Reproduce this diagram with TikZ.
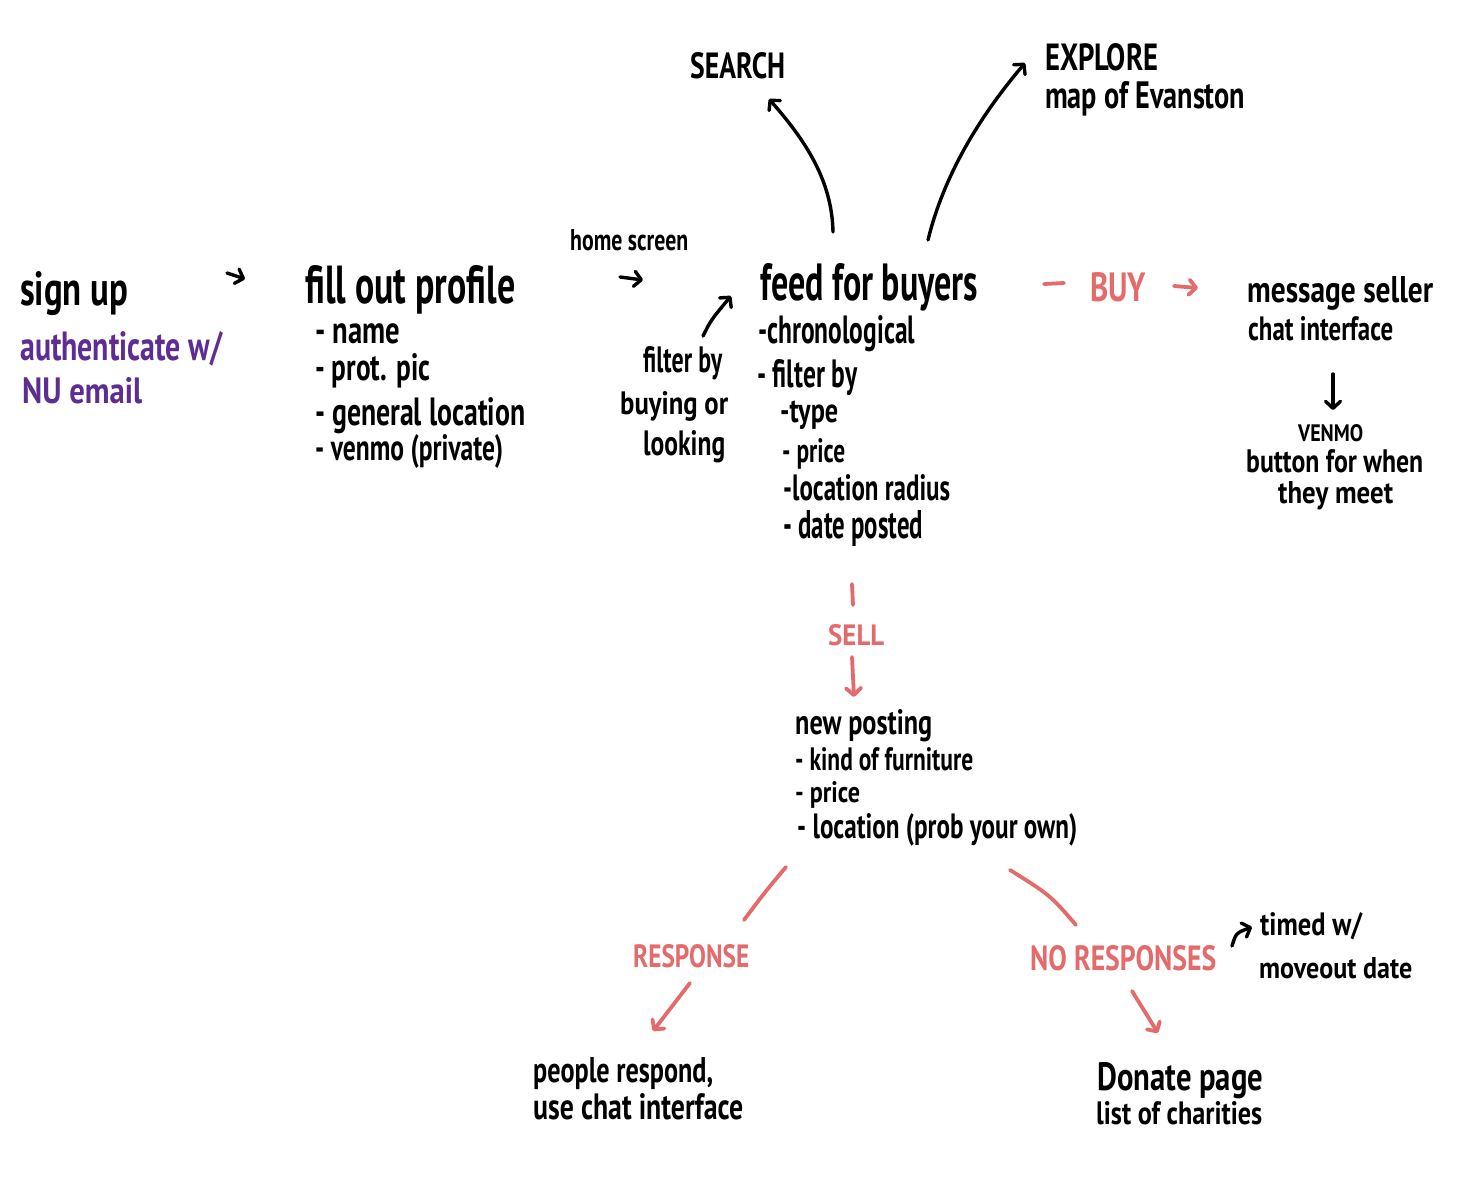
\documentclass[tikz,border=0pt]{standalone}
\usepackage{fontspec}
\setmainfont{PT Sans}
\usetikzlibrary{arrows.meta}
\definecolor{purp}{HTML}{5E2D91}
\definecolor{sal}{HTML}{E36B6B}
\newcommand\hw[3]{\resizebox{#1pt}{#2pt}{\bfseries\vphantom{h}#3}}
\begin{document}
\begin{tikzpicture}[x=1pt,y=-1pt,
  txt/.style={inner sep=0pt, anchor=base west, text=black},
  ptxt/.style={txt, text=purp},
  rtxt/.style={txt, text=sal},
  pen/.style={line width=3.4pt, line cap=round, line join=round},
  arr/.style={pen, -{Straight Barb[length=7pt,width=15pt,line cap=round,line join=round]}},
  rpen/.style={pen, draw=sal, line width=3.8pt},
  rarr/.style={arr, draw=sal, line width=3.8pt}]
\fill[white] (0,0) rectangle (1460,1200);
\useasboundingbox (0,0) rectangle (1460,1200);

% sign up
\node[txt] (signup) at (20,305) {\hw{108}{34}{sign up}};
\node[ptxt] (auth1) at (20,360) {\hw{202}{29}{authenticate w/}};
\node[ptxt] (auth2) at (22,403) {\hw{120}{26}{NU email}};

% profile
\node[txt] (profile) at (305,303) {\hw{210}{38}{fill out profile}};
\node[txt] (pname) at (315,343) {\hw{85}{27}{- name}};
\node[txt] (ppic) at (315,380) {\hw{115}{27}{- prot. pic}};
\node[txt] (ploc) at (315,425) {\hw{210}{28}{- general location}};
\node[txt] (pven) at (315,460) {\hw{188}{26}{- venmo (private)}};

% home screen
\node[txt] (home) at (570,250) {\hw{118}{21}{home screen}};

% feed
\node[txt] (feed) at (760,300) {\hw{218}{37}{feed for buyers}};
\node[txt] (fchrono) at (758,343) {\hw{157}{28}{-chronological}};
\node[txt] (ffilter) at (757,387) {\hw{100}{28}{- filter by}};
\node[txt] (ftype) at (780,422) {\hw{58}{24}{-type}};
\node[txt] (fprice) at (782,462) {\hw{63}{24}{- price}};
\node[txt] (fradius) at (783,500) {\hw{167}{26}{-location radius}};
\node[txt] (fdate) at (783,538) {\hw{140}{28}{- date posted}};

% filter by buying or looking
\node[txt] (fb1) at (643,372) {\hw{79}{26}{filter by}};
\node[txt] (fb2) at (620,414) {\hw{108}{23}{buying or}};
\node[txt] (fb3) at (643,455) {\hw{82}{25}{looking}};

% search / explore
\node[txt] (search) at (690,78) {\hw{95}{26}{SEARCH}};
\node[txt] (explore) at (1045,70) {\hw{113}{27}{EXPLORE}};
\node[txt] (evanston) at (1045,108) {\hw{200}{27}{map of Evanston}};

% buy
\node[rtxt] (buy) at (1090,301) {\hw{56}{29}{BUY}};
\node[txt] (msg) at (1247,302) {\hw{186}{26}{message seller}};
\node[txt] (chat) at (1248,340) {\hw{145}{24}{chat interface}};
\node[txt] (venmo) at (1298,441) {\hw{65}{17}{VENMO}};
\node[txt] (button) at (1246,472) {\hw{177}{23}{button for when}};
\node[txt] (meet) at (1278,503) {\hw{115}{22}{they meet}};

% sell
\node[rtxt] (sell) at (828,645) {\hw{56}{21}{SELL}};
\node[txt] (newpost) at (795,734) {\hw{137}{25}{new posting}};
\node[txt] (nkind) at (795,770) {\hw{178}{23}{- kind of furniture}};
\node[txt] (nprice) at (795,802) {\hw{65}{21}{- price}};
\node[txt] (nloc) at (797,838) {\hw{280}{25}{- location (prob your own)}};

% responses
\node[rtxt] (resp) at (633,967) {\hw{116}{23}{RESPONSE}};
\node[rtxt] (noresp) at (1030,970) {\hw{186}{25}{NO RESPONSES}};
\node[txt] (timed) at (1260,935) {\hw{102}{23}{timed w/}};
\node[txt] (moveout) at (1259,978) {\hw{153}{21}{moveout date}};
\node[txt] (people) at (533,1082) {\hw{180}{25}{people respond,}};
\node[txt] (usechat) at (533,1119) {\hw{210}{26}{use chat interface}};
\node[txt] (donate) at (1097,1090) {\hw{166}{28}{Donate page}};
\node[txt] (charity) at (1096,1124) {\hw{166}{23}{list of charities}};

% connector end points
\coordinate (a1s) at (227,273); \coordinate (a1e) at (245,279);
\coordinate (a2s) at (620,277); \coordinate (a2e) at (643,280);
\coordinate (a3s) at (703,336); \coordinate (a3e) at (731,296);
\coordinate (a4s) at (833,232); \coordinate (a4e) at (769,99);
\coordinate (a5s) at (928,240); \coordinate (a5e) at (1025,63);
\coordinate (b1s) at (1044,284); \coordinate (b1e) at (1064,283);
\coordinate (b2s) at (1174,286); \coordinate (b2e) at (1198,288);
\coordinate (v1s) at (1333,374); \coordinate (v1e) at (1333,410);
\coordinate (s1s) at (852,584); \coordinate (s1e) at (853,605);
\coordinate (s2s) at (852,657); \coordinate (s2e) at (854,697);
\coordinate (l1s) at (786,867); \coordinate (l1e) at (744,920);
\coordinate (l2s) at (690,983); \coordinate (l2e) at (653,1031);
\coordinate (r1s) at (1010,870); \coordinate (r1e) at (1076,925);
\coordinate (r2s) at (1132,991); \coordinate (r2e) at (1158,1033);
\coordinate (t1s) at (1232,946); \coordinate (t1e) at (1252,927);

% black arrows
\draw[arr] (a1s) -- (a1e);
\draw[arr] (a2s) -- (a2e);
\draw[arr] (a3s) .. controls (711,320) .. (a3e);
\draw[arr] (a4s) .. controls (832,180) and (805,140) .. (a4e);
\draw[arr] (a5s) .. controls (945,170) and (985,110) .. (a5e);
\draw[arr] (v1s) -- (v1e);
\draw[arr] (t1s) .. controls (1236,933) .. (t1e);

% red strokes and arrows
\draw[rpen] (b1s) -- (b1e);
\draw[rarr] (b2s) -- (b2e);
\draw[rpen] (s1s) -- (s1e);
\draw[rarr] (s2s) -- (s2e);
\draw[rpen] (l1s) .. controls (765,892) .. (l1e);
\draw[rarr] (l2s) -- (l2e);
\draw[rpen] (r1s) .. controls (1050,895) .. (r1e);
\draw[rarr] (r2s) -- (r2e);
\end{tikzpicture}
\end{document}
